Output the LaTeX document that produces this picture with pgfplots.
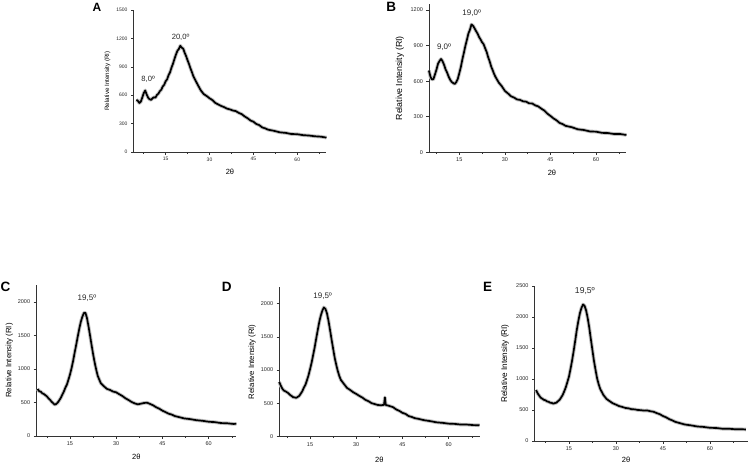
\documentclass[border=0pt]{standalone}
\usepackage{fontspec}
\setmainfont{Liberation Sans}
\usepackage{pgfplots}
\usepackage{pgfplotstable}
\pgfplotsset{compat=1.18}

\pgfplotstableread{
x y
5 552
5.5 540
6 518
6.5 532
7 575
7.5 622
8 650
8.5 608
9 574
9.5 558
10 550
10.5 568
11 578
11.5 574
12 602
12.5 616
13 642
13.5 658
14 692
14.5 710
15 748
15.5 768
16 812
16.5 842
17 892
17.5 932
18 982
18.5 1028
19 1068
19.5 1088
20 1122
20.5 1102
21 1092
21.5 1048
22 1012
22.5 968
23 928
23.5 882
24 842
24.5 798
25 768
26 708
27 652
28 612
29 592
30 568
31 548
32 518
33 502
34 486
35 474
36 458
37 450
38 438
39 432
40 413
41 400
42 376
43 357
44 333
45 320
46 296
47 284
48 260
49 250
50 236
52 224
54 208
56 202
58 190
60 188
62 178
64 174
66 166
68 162
70 152
}\dataA

\pgfplotstableread{
x y
5 690
5.5 638
6 614
6.5 618
7 657
7.5 698
8 747
8.5 770
9 787
9.5 768
10 737
10.5 698
11 672
11.5 638
12 612
12.5 593
13 584
13.5 576
14 592
14.5 618
15 667
15.5 718
16 782
16.5 838
17 897
17.5 948
18 1002
18.5 1033
19 1078
19.5 1068
20 1047
20.5 1023
21 1002
21.5 973
22 952
22.5 928
23 912
23.5 878
24 847
24.5 803
25 767
25.5 723
26 692
26.5 658
27 632
28 588
29 557
30 518
31 497
32 473
33 462
34 446
35 442
36 430
37 427
38 413
39 412
40 396
41 387
42 368
43 352
44 326
45 307
46 286
47 270
48 248
49 238
50 223
52 212
54 194
56 188
58 176
60 174
62 164
64 162
66 154
68 154
70 146
}\dataB

\pgfplotstableread{
x y
4.5 702
5 668
5.5 662
6 638
6.5 627
7 610
7.5 592
8 563
8.5 542
9 513
9.5 492
10 468
10.5 477
11 498
11.5 532
12 568
12.5 617
13 663
13.5 722
14 768
14.5 842
15 918
15.5 1012
16 1118
16.5 1242
17 1358
17.5 1482
18 1598
18.5 1702
19 1778
19.5 1835
20 1840
20.5 1762
21 1638
21.5 1502
22 1358
22.5 1222
23 1098
23.5 992
24 898
24.5 842
25 788
26 742
27 703
28 687
29 663
30 652
31 623
32 597
33 563
34 537
35 508
36 487
37 473
38 482
39 493
40 497
41 478
42 457
43 428
44 407
45 378
46 357
47 333
48 320
49 298
50 287
52 263
54 252
56 236
58 227
60 213
62 207
64 193
66 190
68 180
69 182
}\dataC

\pgfplotstableread{
x y
5 822
5.5 768
6 722
6.5 693
7 682
7.5 668
8 652
8.5 628
9 612
9.5 593
10 590
10.5 583
11 597
11.5 613
12 647
12.5 683
13 737
13.5 778
14 847
14.5 918
15 1012
15.5 1108
16 1222
16.5 1338
17 1472
17.5 1598
18 1722
18.5 1818
19 1892
19.5 1940
20 1918
20.5 1852
21 1738
21.5 1602
22 1458
22.5 1322
23 1188
23.5 1082
24 988
24.5 912
25 853
26 792
27 733
28 702
29 668
30 642
31 613
32 587
33 553
34 532
35 503
36 490
37 476
38 472
39 478
39.3 590
39.6 474
40 472
41 458
42 442
43 408
44 387
45 358
46 342
47 310
48 297
49 278
50 270
52 248
54 234
56 216
58 208
60 196
62 192
64 182
66 182
68 174
70 172
}\dataD

\pgfplotstableread{
x y
4.5 822
5 768
5.5 732
6 698
6.5 682
7 663
7.5 657
8 638
8.5 632
9 618
9.5 614
10 603
10.5 612
11 618
11.5 642
12 663
12.5 702
13 743
13.5 802
14 868
14.5 952
15 1038
15.5 1162
16 1298
16.5 1452
17 1618
17.5 1792
18 1938
18.5 2062
19 2148
19.5 2202
20 2178
20.5 2102
21 1978
21.5 1822
22 1638
22.5 1462
23 1288
23.5 1142
24 1008
24.5 912
25 838
26 742
27 678
28 642
29 608
30 587
31 563
32 550
33 533
34 527
35 513
36 510
37 500
38 497
39 490
40 492
41 480
42 472
43 450
44 432
45 403
46 382
47 353
48 332
49 308
50 294
52 266
54 252
56 234
58 227
60 213
62 210
64 198
66 198
68 190
70 190
71.5 186
}\dataE

\tikzset{peak/.style={font=\fontsize{8}{9}\selectfont, text=black!85}}

\pgfplotsset{
  xrd/.style={
    scale only axis, anchor=south west,
    axis lines*=left,
    axis line style={-, black!80, line width=0.5pt},
    tick align=outside, tick pos=left,
    major tick length=2.5pt, minor tick length=1.5pt,
    every tick/.style={black!80, line width=0.5pt},
    xtick={15,30,45,60}, minor xtick={7.5,22.5,37.5,52.5,67.5},
    ymin=0,
    /pgf/number format/assume math mode=true,
    /pgf/number format/1000 sep={},
    scaled y ticks=false,
    ticklabel style={font=\fontsize{5.5}{6}\selectfont, text=black!85},
    xticklabel style={yshift=0.5pt},
    clip=false,
    xlabel={2θ}, ylabel={Relative Intensity (RI)},
    every axis x label/.style={anchor=center, font=\fontsize{7.5}{8}\selectfont},
    every axis y label/.style={rotate=90, anchor=center, font=\fontsize{7.8}{8}\selectfont},
  },
  halo/.style={gray!50, line width=3.6pt, line join=round, no markers},
  trace/.style={black, line width=1.7pt, line join=round, no markers},
}

\begin{document}
\begin{tikzpicture}[x=1pt,y=1pt]
\path[use as bounding box] (0,0) rectangle (750,467);

% A
\begin{axis}[xrd, at={(133.5pt,315pt)}, width=193pt, height=142pt,
  xmin=4, xmax=70, ymax=1500, ytick={0,300,...,1500},
  ticklabel style={font=\fontsize{5}{6}\selectfont},
  every axis y label/.append style={font=\fontsize{6.2}{7}\selectfont, at={(axis description cs:-0.135,0.5)}},
  every axis x label/.append style={at={(axis description cs:0.5,-0.14)}}]
\addplot[halo] table {\dataA};
\addplot[trace] table {\dataA};
\node[peak, font=\fontsize{7.6}{8}\selectfont] at (axis cs:9,771) {8,0º};
\node[peak, font=\fontsize{7.6}{8}\selectfont] at (axis cs:20.1,1214) {20,0º};
\end{axis}

% B
\begin{axis}[xrd, at={(428.9pt,314.7pt)}, width=197.5pt, height=148.2pt,
  xmin=5, xmax=70, ymax=1250, ytick={0,300,...,1200},
  every axis y label/.append style={font=\fontsize{8.8}{9}\selectfont, at={(axis description cs:-0.147,0.5)}},
  every axis x label/.append style={at={(axis description cs:0.623,-0.138)}}]
\addplot[halo] table {\dataB};
\addplot[trace] table {\dataB};
\node[peak] at (axis cs:10,890) {9,0º};
\node[peak] at (axis cs:19.1,1172) {19,0º};
\end{axis}

% C
\begin{axis}[xrd, at={(36.1pt,31pt)}, width=200.3pt, height=150.75pt,
  xmin=4, xmax=69, ymax=2250, ytick={0,500,...,2000},
  every axis y label/.append style={at={(axis description cs:-0.133,0.5)}},
  every axis x label/.append style={at={(axis description cs:0.5,-0.137)}}]
\addplot[halo] table {\dataC};
\addplot[trace] table {\dataC};
\node[peak] at (axis cs:20.5,2055) {19,5º};
\end{axis}

% D
\begin{axis}[xrd, at={(279.2pt,30.3pt)}, width=200.3pt, height=149.9pt,
  xmin=5, xmax=70, ymax=2250, ytick={0,500,...,2000},
  every axis y label/.append style={at={(axis description cs:-0.135,0.5)}},
  every axis x label/.append style={at={(axis description cs:0.5,-0.155)}}]
\addplot[halo] table {\dataD};
\addplot[trace] table {\dataD};
\node[peak] at (axis cs:19.1,2113) {19,5º};
\end{axis}

% E
\begin{axis}[xrd, at={(534.5pt,26pt)}, width=213pt, height=155pt,
  xmin=4, xmax=72, ymax=2500, ytick={0,500,...,2500},
  every axis y label/.append style={font=\fontsize{8.2}{9}\selectfont, at={(axis description cs:-0.138,0.5)}},
  every axis x label/.append style={at={(axis description cs:0.43,-0.123)}}]
\addplot[halo] table {\dataE};
\addplot[trace] table {\dataE};
\node[peak, font=\fontsize{8.6}{9}\selectfont] at (axis cs:20.1,2419) {19,5º};
\end{axis}

% panel letters
\node[font=\fontsize{12}{12}\selectfont\bfseries] at (97,460) {A};
\node[font=\fontsize{13.5}{14}\selectfont\bfseries] at (391.3,460.3) {B};
\node[font=\fontsize{13.5}{14}\selectfont\bfseries] at (5.5,179.7) {C};
\node[font=\fontsize{13.5}{14}\selectfont\bfseries] at (226.7,180.3) {D};
\node[font=\fontsize{13.5}{14}\selectfont\bfseries] at (487.7,180.3) {E};
\end{tikzpicture}
\end{document}
